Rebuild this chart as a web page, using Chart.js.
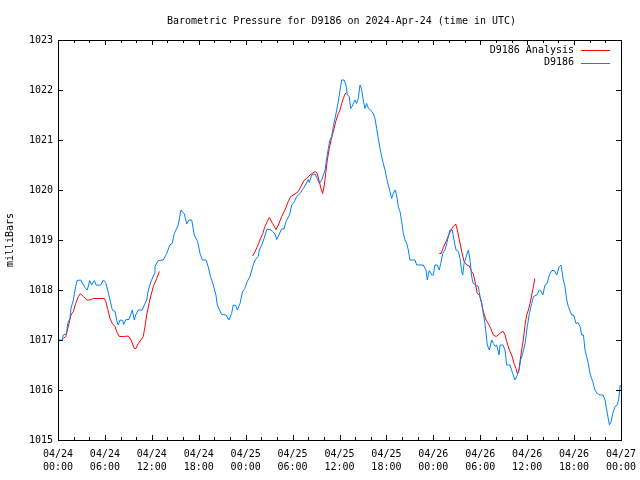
<!DOCTYPE html>
<html>
<head>
<meta charset="utf-8">
<script src="https://cdn.jsdelivr.net/npm/chart.js@4/dist/chart.umd.min.js"></script>
<style>
  html, body { margin: 0; padding: 0; background: #fff; }
  canvas { display: block; }
</style>
</head>
<body>
<canvas id="chart" width="640" height="480"></canvas>
<script>
// hours since 04/24 00:00 UTC
var blueHours = [0, 0.55, 0.68, 1.1, 1.24, 1.53, 1.66, 1.96, 2.17, 2.43, 2.9, 3.45, 3.75, 4.05, 4.3, 4.65, 4.86, 5.46, 5.8, 6.1,
  6.35, 6.65, 6.95, 7.3, 7.5, 7.7, 7.93, 8.27, 8.4, 8.7, 9.08, 9.5, 9.76, 9.93, 10.27, 10.78, 11.04, 11.34, 11.55, 11.9,
  12.32, 12.4, 12.83, 13.47, 13.9, 14.3, 14.6, 14.87, 15.38, 15.73, 16.16, 16.46, 16.75, 17.1, 17.43, 17.86, 18.16, 18.46, 18.93, 19.2,
  19.5, 19.86, 20.2, 20.37, 20.93, 21.49, 21.87, 22.2, 22.42, 22.72, 22.93, 23.28, 23.6, 23.9, 24.2, 24.56, 24.9, 25.2, 25.6, 25.75,
  26.05, 26.35, 26.7, 27.1, 27.45, 27.75, 27.97, 28.3, 28.6, 28.9, 29.16, 29.6, 29.9, 30.23, 30.53, 30.95, 31.37, 31.72, 32.0, 32.13,
  32.45, 32.87, 33.16, 33.42, 33.72, 34.0, 34.15, 34.36, 34.57, 34.78, 35.0, 35.2, 35.43, 35.64, 35.85, 36.07, 36.28, 36.58, 36.83, 37.0,
  37.25, 37.43, 37.7, 37.98, 38.2, 38.4, 38.62, 38.8, 39.04, 39.25, 39.47, 39.7, 39.98, 40.32, 40.54, 40.75, 40.96, 41.18, 41.39, 41.6,
  41.82, 42.03, 42.24, 42.46, 42.67, 42.88, 43.1, 43.3, 43.52, 43.74, 43.95, 44.16, 44.38, 44.6, 44.8, 45.0, 45.66, 45.87, 46.7, 47.06,
  47.23, 47.48, 47.8, 48.0, 48.2, 48.5, 48.76, 48.94, 49.2, 49.49, 49.71, 49.92, 50.13, 50.43, 50.64, 50.9, 51.2, 51.42, 51.63, 51.76,
  51.93, 52.27, 52.48, 52.69, 52.9, 53.1, 53.45, 53.75, 53.97, 54.2, 54.39, 54.6, 54.74, 54.9, 55.16, 55.47, 55.68, 55.89, 56.1, 56.4,
  56.53, 56.9, 57.17, 57.38, 57.8, 58.15, 58.44, 58.74, 59.0, 59.17, 59.43, 59.73, 60.02, 60.28, 60.58, 60.8, 61.23, 61.57, 61.8, 62.0,
  62.28, 62.55, 62.84, 63.14, 63.45, 63.78, 64.11, 64.33, 64.62, 64.84, 65.05, 65.26, 65.69, 65.95, 66.25, 66.5, 66.76, 66.97, 67.2, 67.4,
  67.6, 67.82, 68.03, 68.38, 68.67, 68.97, 69.32, 69.7, 69.96, 70.17, 70.4, 70.52, 70.74, 70.95, 71.24, 71.53, 71.72, 71.9];
var bluePressure = [1017.0, 1017.0, 1017.1, 1017.13, 1017.33, 1017.43, 1017.63, 1017.8, 1018.0, 1018.19, 1018.2, 1018.05, 1018.0, 1018.19, 1018.1, 1018.19, 1018.1, 1018.1, 1018.2, 1018.15,
  1018.0, 1017.8, 1017.6, 1017.57, 1017.4, 1017.3, 1017.4, 1017.39, 1017.31, 1017.41, 1017.41, 1017.6, 1017.4, 1017.5, 1017.6, 1017.6, 1017.7, 1017.8, 1018.0, 1018.17,
  1018.33, 1018.47, 1018.59, 1018.6, 1018.73, 1018.9, 1018.93, 1019.13, 1019.3, 1019.6, 1019.52, 1019.32, 1019.4, 1019.4, 1019.1, 1018.97, 1018.73, 1018.6, 1018.6, 1018.47,
  1018.27, 1018.1, 1017.9, 1017.7, 1017.51, 1017.5, 1017.4, 1017.53, 1017.7, 1017.69, 1017.6, 1017.73, 1017.97, 1018.03, 1018.17, 1018.27, 1018.47, 1018.6, 1018.67, 1018.8,
  1018.9, 1019.03, 1019.21, 1019.21, 1019.17, 1019.12, 1019.01, 1019.12, 1019.22, 1019.22, 1019.37, 1019.5, 1019.7, 1019.77, 1019.87, 1019.93, 1020.03, 1020.12, 1020.21, 1020.15,
  1020.3, 1020.32, 1020.23, 1020.13, 1020.2, 1020.33, 1020.4, 1020.63, 1020.83, 1021.0, 1021.07, 1021.27, 1021.43, 1021.6, 1021.77, 1022.0, 1022.2, 1022.2, 1022.1, 1021.9,
  1021.87, 1021.63, 1021.7, 1021.8, 1021.73, 1021.83, 1022.1, 1022.03, 1021.8, 1021.63, 1021.73, 1021.63, 1021.6, 1021.53, 1021.43, 1021.23, 1021.03, 1020.83, 1020.67, 1020.53,
  1020.4, 1020.23, 1020.1, 1019.97, 1019.83, 1019.93, 1020.0, 1019.9, 1019.67, 1019.57, 1019.37, 1019.13, 1019.0, 1018.93, 1018.8, 1018.6, 1018.6, 1018.5, 1018.5, 1018.4,
  1018.2, 1018.39, 1018.3, 1018.3, 1018.5, 1018.5, 1018.4, 1018.53, 1018.73, 1018.8, 1018.93, 1019.07, 1019.2, 1019.2, 1019.0, 1018.8, 1018.77, 1018.63, 1018.37, 1018.3,
  1018.53, 1018.7, 1018.8, 1018.6, 1018.27, 1018.13, 1018.1, 1018.07, 1017.87, 1017.73, 1017.53, 1017.33, 1017.13, 1016.9, 1016.8, 1017.0, 1016.93, 1016.87, 1016.9, 1016.7,
  1016.9, 1016.9, 1016.8, 1016.5, 1016.5, 1016.33, 1016.2, 1016.3, 1016.43, 1016.6, 1016.73, 1016.93, 1017.27, 1017.53, 1017.73, 1017.87, 1017.9, 1018.0, 1017.97, 1017.9,
  1018.1, 1018.13, 1018.3, 1018.39, 1018.39, 1018.3, 1018.47, 1018.5, 1018.2, 1018.07, 1017.8, 1017.67, 1017.5, 1017.5, 1017.33, 1017.35, 1017.27, 1017.1, 1017.1, 1016.8,
  1016.67, 1016.53, 1016.33, 1016.17, 1016.0, 1015.93, 1015.9, 1015.9, 1015.8, 1015.6, 1015.4, 1015.3, 1015.37, 1015.53, 1015.67, 1015.7, 1015.83, 1016.1];

// analysis runs, null marks a gap between runs
var redHours = [0.68, 0.98, 1.32, 1.66, 1.96, 2.26, 2.6, 2.86, 3.24, 3.67, 4.1, 4.52, 5.93, 6.1, 6.35, 6.65, 6.95, 7.3, 7.5, 7.84,
  8.35, 9.0, 9.34, 9.76, 9.95, 10.27, 10.6, 10.9, 11.13, 11.34, 11.64, 11.9, 12.19, 12.62, 12.96,
  18,
  24.9, 25.2, 25.5, 25.83, 26.18, 26.47, 26.77, 27.02, 27.45, 27.88, 28.18, 28.6, 29.03, 29.45, 29.76, 30.31, 30.73, 31.16, 31.46, 31.81,
  32.23, 32.87, 33.1, 33.42, 33.63, 33.85, 34.06, 34.27, 34.44, 34.69, 34.92, 35.21, 35.52, 35.85, 36.07, 36.28, 36.48, 36.7, 36.92,
  42,
  48.76, 49.0, 49.28, 49.62, 49.92, 50.22, 50.56, 50.86, 51.07, 51.33, 51.63, 51.93, 52.27, 52.6, 52.9, 53.1, 53.33, 53.62, 53.9, 54.18,
  54.39, 54.74, 55.03, 55.34, 55.68, 56.02, 56.31, 56.62, 56.95, 57.17, 57.38, 57.72, 58.02, 58.32, 58.57, 58.74, 58.9, 59.08, 59.3, 59.5,
  59.73, 59.94, 60.15, 60.37, 60.58, 60.8, 60.97];
var redPressure = [1017.03, 1017.07, 1017.27, 1017.5, 1017.57, 1017.73, 1017.87, 1017.93, 1017.87, 1017.8, 1017.8, 1017.83, 1017.83, 1017.77, 1017.63, 1017.43, 1017.33, 1017.27, 1017.17, 1017.07,
  1017.07, 1017.08, 1017.0, 1016.83, 1016.83, 1016.93, 1017.0, 1017.07, 1017.27, 1017.5, 1017.73, 1017.9, 1018.07, 1018.23, 1018.37,
  null,
  1018.68, 1018.77, 1018.87, 1019.0, 1019.13, 1019.27, 1019.37, 1019.45, 1019.33, 1019.21, 1019.3, 1019.47, 1019.6, 1019.77, 1019.87, 1019.92, 1019.97, 1020.1, 1020.19, 1020.23,
  1020.3, 1020.37, 1020.35, 1020.17, 1020.03, 1019.93, 1020.1, 1020.37, 1020.6, 1020.83, 1021.0, 1021.17, 1021.37, 1021.53, 1021.6, 1021.73, 1021.83, 1021.92, 1021.95,
  null,
  1018.73, 1018.73, 1018.85, 1018.97, 1019.08, 1019.19, 1019.27, 1019.32, 1019.2, 1019.0, 1018.77, 1018.57, 1018.5, 1018.48, 1018.37, 1018.33, 1018.17, 1017.93, 1017.9, 1017.73,
  1017.57, 1017.4, 1017.33, 1017.23, 1017.1, 1017.07, 1017.1, 1017.15, 1017.17, 1017.1, 1016.97, 1016.8, 1016.7, 1016.53, 1016.43, 1016.33, 1016.35, 1016.57, 1016.8, 1017.0,
  1017.3, 1017.5, 1017.6, 1017.73, 1017.9, 1018.07, 1018.23];

var dayLabels = ['04/24', '04/25', '04/26', '04/27'];
var hourLabels = ['00:00', '06:00', '12:00', '18:00'];
var titleText = 'Barometric Pressure for D9186 on 2024-Apr-24 (time in UTC)';
var seriesNames = ['D9186 Analysis', 'D9186'];
var seriesColors = ['#ff0000', '#0080ff'];

var FONT = 'DejaVu Sans Mono';

function toPoints(xs, ys) {
  return xs.map(function (x, i) { return { x: x, y: ys[i] }; });
}

// frame, inward ticks, title and legend, gnuplot style
var gnuFrame = {
  id: 'gnuFrame',
  afterDraw: function (chart) {
    var ctx = chart.ctx;
    var a = chart.chartArea;
    var xs = chart.scales.x;
    var ys = chart.scales.y;
    ctx.save();
    ctx.strokeStyle = '#000';
    ctx.lineWidth = 1;
    ctx.beginPath();
    for (var h = 0; h <= 72; h += 2) {
      var px = Math.round(xs.getPixelForValue(h)) + 0.5;
      var len = (h % 6 === 0) ? 5 : 3;
      ctx.moveTo(px, a.bottom); ctx.lineTo(px, a.bottom - len);
      ctx.moveTo(px, a.top); ctx.lineTo(px, a.top + len);
    }
    for (var p = 1015; p <= 1023; p++) {
      var py = Math.round(ys.getPixelForValue(p)) + 0.5;
      ctx.moveTo(a.left, py); ctx.lineTo(a.left + 5, py);
      ctx.moveTo(a.right, py); ctx.lineTo(a.right - 5, py);
    }
    ctx.stroke();
    ctx.strokeRect(Math.round(a.left) + 0.5, Math.round(a.top) + 0.5,
      Math.round(a.right - a.left), Math.round(a.bottom - a.top));

    ctx.fillStyle = '#000';
    ctx.font = '10px "' + FONT + '"';
    ctx.textBaseline = 'middle';
    ctx.textAlign = 'center';
    ctx.fillText(titleText, (a.left + a.right) / 2 + 2, 21);

    ctx.textAlign = 'right';
    seriesNames.forEach(function (name, i) {
      var y = 50 + i * 12.5;
      ctx.fillStyle = '#000';
      ctx.fillText(name, 574, y);
      ctx.strokeStyle = seriesColors[i];
      ctx.beginPath();
      ctx.moveTo(581, Math.round(y) + 0.5);
      ctx.lineTo(610, Math.round(y) + 0.5);
      ctx.stroke();
    });
    ctx.restore();
  }
};

new Chart(document.getElementById('chart'), {
  type: 'line',
  data: {
    datasets: [{
      label: seriesNames[1],
      data: toPoints(blueHours, bluePressure),
      borderColor: seriesColors[1],
      borderWidth: 1,
      pointRadius: 0,
      tension: 0
    }, {
      label: seriesNames[0],
      data: toPoints(redHours, redPressure),
      borderColor: seriesColors[0],
      borderWidth: 1,
      pointRadius: 0,
      tension: 0,
      spanGaps: false
    }]
  },
  options: {
    responsive: false,
    animation: false,
    events: [],
    layout: { padding: { left: 0, right: 19, top: 40, bottom: 0 } },
    plugins: {
      legend: { display: false },
      title: { display: false },
      tooltip: { enabled: false }
    },
    scales: {
      x: {
        type: 'linear',
        min: 0,
        max: 72,
        grid: { display: false, drawTicks: false },
        border: { display: false },
        ticks: {
          stepSize: 6,
          autoSkip: false,
          maxRotation: 0,
          padding: 8,
          color: '#000',
          font: { family: FONT, size: 10, lineHeight: 1.3 },
          callback: function (v) {
            return [dayLabels[Math.floor(v / 24)], hourLabels[(v % 24) / 6]];
          }
        },
        afterFit: function (s) {
          s.height = 40;
          s.paddingLeft = 0;
          s.paddingRight = 0;
        }
      },
      y: {
        min: 1015,
        max: 1023,
        grid: { display: false, drawTicks: false },
        border: { display: false },
        ticks: {
          stepSize: 1,
          padding: 5,
          color: '#000',
          font: { family: FONT, size: 10 },
          callback: function (v) { return String(v); }
        },
        title: {
          display: true,
          text: 'milliBars',
          color: '#000',
          padding: 4,
          font: { family: FONT, size: 10 }
        },
        afterFit: function (s) { s.width = 58; }
      }
    }
  },
  plugins: [gnuFrame]
});
</script>
</body>
</html>
